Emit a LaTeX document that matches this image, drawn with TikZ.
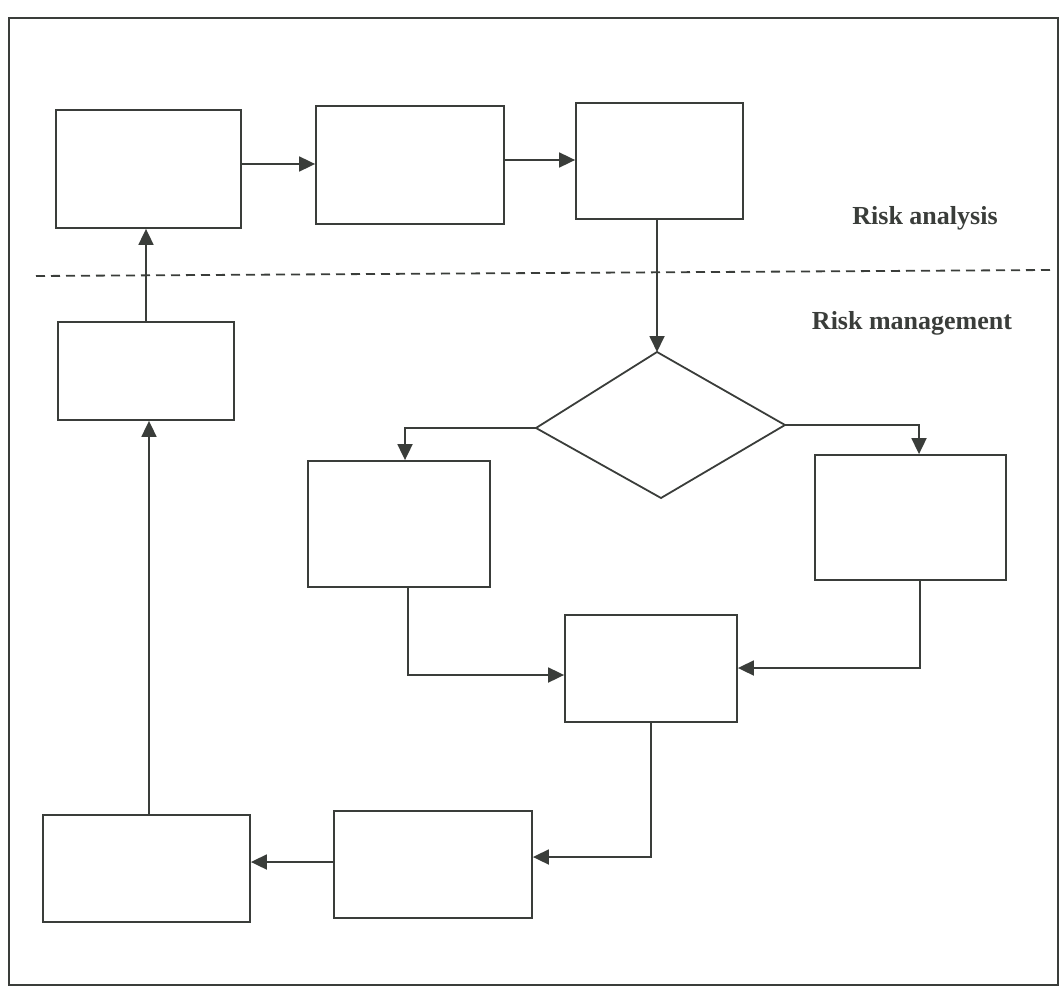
\documentclass[tikz,border=0pt]{standalone}
\usepackage{fontspec}
\setmainfont{Liberation Serif}
\usetikzlibrary{arrows.meta,shapes.geometric}
\definecolor{ink}{HTML}{3A3D3A}
\begin{document}
\begin{tikzpicture}[x=1pt,y=-1pt,
  box/.style={draw=ink,line width=1.8pt,rectangle,inner sep=0pt,fill=white},
  conn/.style={draw=ink,line width=1.8pt,-{Triangle[length=16pt,width=15pt]}},
  lbl/.style={font=\bfseries\fontsize{26}{30}\selectfont,text=ink}]
\useasboundingbox (0,0) rectangle (1064,992);
\draw[ink,line width=1.8pt] (9,18) rectangle (1058,985);
% top row
\node[box,minimum width=185pt,minimum height=118pt] (a1) at (148.5,169) {};
\node[box,minimum width=188pt,minimum height=118pt] (a2) at (410,165) {};
\node[box,minimum width=167pt,minimum height=116pt] (a3) at (659.5,161) {};
% separator and labels
\draw[ink,line width=1.8pt,dash pattern=on 9pt off 6pt] (36,276) -- (1050,270);
\node[lbl] (ra) at (925,218) {Risk analysis};
\node[lbl] (rm) at (912,323) {Risk management};
% left column
\node[box,minimum width=176pt,minimum height=98pt] (l1) at (146,371) {};
% diamond
\draw[ink,line width=1.8pt] (657,352) -- (785,425) -- (661,498) -- (536,428) -- cycle;
\coordinate (dt) at (657,352);
\coordinate (dl) at (536,428);
\coordinate (dr) at (785,425);
% middle row
\node[box,minimum width=182pt,minimum height=126pt] (m1) at (399,524) {};
\node[box,minimum width=191pt,minimum height=125pt] (m2) at (910.5,517.5) {};
\node[box,minimum width=172pt,minimum height=107pt] (c) at (651,668.5) {};
% bottom row
\node[box,minimum width=198pt,minimum height=107pt] (b2) at (433,864.5) {};
\node[box,minimum width=207pt,minimum height=107pt] (b1) at (146.5,868.5) {};
% connectors
\draw[conn] (a1.east |- 0,164) -- (a2.west |- 0,164);
\draw[conn] (a2.east |- 0,160) -- (a3.west |- 0,160);
\draw[conn] (a3.south -| dt) -- (dt);
\draw[conn] (dl) -| (m1.north -| 405,0);
\draw[conn] (dr) -| (m2.north -| 919,0);
\draw[conn] (m1.south -| 408,0) |- (c.west |- 0,675);
\draw[conn] (m2.south -| 920,0) |- (c.east |- 0,668);
\draw[conn] (c.south) |- (b2.east |- 0,857);
\draw[conn] (b2.west |- 0,862) -- (b1.east |- 0,862);
\draw[conn] (b1.north -| 149,0) -- (l1.south -| 149,0);
\draw[conn] (l1.north) -- (a1.south -| l1.north);
\end{tikzpicture}
\end{document}
